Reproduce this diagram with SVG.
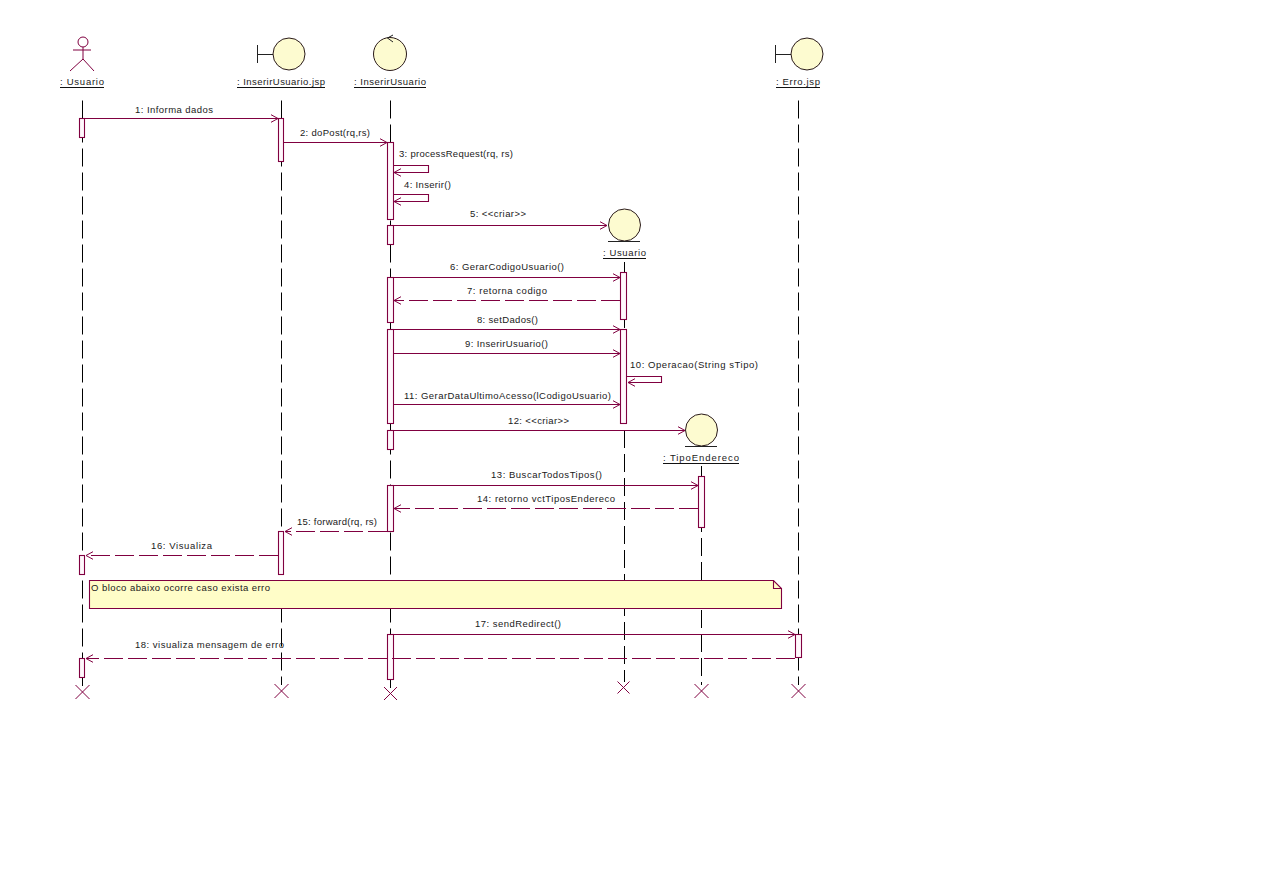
<svg xmlns="http://www.w3.org/2000/svg" width="1275" height="883" viewBox="0 0 1275 883">
<style>
text{font-family:"Liberation Sans",Arial,sans-serif;font-size:9.5px;fill:#1a1a1a}
.life{stroke:#000;stroke-width:1;stroke-dasharray:18 6;fill:none}
.act{fill:#fff8fc;stroke:#800040;stroke-width:1.1}
.msg{stroke:#800040;stroke-width:1.1;fill:none;marker-end:url(#open)}
.ret{stroke:#800040;stroke-width:1.1;fill:none;stroke-dasharray:19 5;marker-end:url(#open)}
.ent{fill:#fdfbd0;stroke:#2a1a1a;stroke-width:1}
.fig{stroke:#222;stroke-width:1;fill:none}
.actor{stroke:#800040;stroke-width:1;fill:none}
.x{stroke:#800040;stroke-width:1;fill:none}
.ul{stroke:#111;stroke-width:1}
</style>
<defs>
<marker id="open" markerUnits="userSpaceOnUse" markerWidth="12" markerHeight="12" refX="8" refY="5" orient="auto">
<path d="M1 1.2L8 5L1 8.8" fill="none" stroke="#800040" stroke-width="1"/>
</marker>
</defs>
<rect width="1275" height="883" fill="#fff"/>

<g id="node-usuario-actor">
<line class="life" x1="82.500" y1="100.500" x2="82.500" y2="686"/>
<circle class="actor" cx="83" cy="42" r="5"/>
<path class="actor" d="M83 47V59M73 50H91M70 71L83 59L94 71"/>
<text x="60" y="85" textLength="44">: Usuario</text>
<line class="ul" x1="60" y1="87.5" x2="104" y2="87.5"/>
<rect class="act" x="79.500" y="118.500" width="5" height="19"/>
<rect class="act" x="79.500" y="555.500" width="5" height="19"/>
<rect class="act" x="79.500" y="658.500" width="5" height="19"/>
<path class="x" d="M75.500 685L89.500 699M89.500 685L75.500 699"/>
</g>

<g id="node-inserirusuario-jsp">
<line class="life" x1="281.500" y1="100.500" x2="281.500" y2="685"/>
<path class="fig" d="M257.500 45V63M257.500 54.500H273"/>
<circle class="ent" cx="289" cy="54" r="16"/>
<text x="237" y="85" textLength="88">: InserirUsuario.jsp</text>
<line class="ul" x1="237" y1="87.5" x2="325" y2="87.5"/>
<rect class="act" x="278.500" y="118.500" width="5" height="43"/>
<rect class="act" x="278.500" y="531.500" width="5" height="43"/>
<path class="x" d="M274.500 684L288.500 698M288.500 684L274.500 698"/>
</g>

<g id="node-inserirusuario">
<line class="life" x1="390.500" y1="100.500" x2="390.500" y2="688"/>
<circle class="ent" cx="390" cy="54" r="16.500"/>
<path class="fig" d="M393 35L387.500 38L393 42"/>
<text x="354" y="85" textLength="72">: InserirUsuario</text>
<line class="ul" x1="354" y1="87.5" x2="426" y2="87.5"/>
<rect class="act" x="387.500" y="142.500" width="6" height="77"/>
<rect class="act" x="387.500" y="225.500" width="6" height="19"/>
<rect class="act" x="387.500" y="277.500" width="6" height="45"/>
<rect class="act" x="387.500" y="329.500" width="6" height="94"/>
<rect class="act" x="387.500" y="430.500" width="6" height="19"/>
<rect class="act" x="387.500" y="485.500" width="6" height="46"/>
<rect class="act" x="387.500" y="634.500" width="6" height="45"/>
<path class="x" d="M384 687L397 700M397 687L384 700"/>
</g>

<g id="node-usuario-entity">
<line class="life" x1="624.500" y1="262" x2="624.500" y2="682"/>
<circle class="ent" cx="624.500" cy="225" r="16"/>
<path class="fig" d="M608 241.500H640"/>
<text x="603" y="256" textLength="43">: Usuario</text>
<line class="ul" x1="603" y1="258.500" x2="646" y2="258.500"/>
<rect class="act" x="620.500" y="272.500" width="6" height="47"/>
<rect class="act" x="620.500" y="329.500" width="6" height="94"/>
<path class="x" d="M617.500 681.500L629.500 693.500M629.500 681.500L617.500 693.500"/>
</g>

<g id="node-tipoendereco">
<line class="life" x1="701.500" y1="466" x2="701.500" y2="685"/>
<circle class="ent" cx="701.500" cy="430" r="16"/>
<path class="fig" d="M685 446.500H717"/>
<text x="663" y="461" textLength="76">: TipoEndereco</text>
<line class="ul" x1="663" y1="463.500" x2="739" y2="463.500"/>
<rect class="act" x="698.500" y="476.500" width="6" height="51"/>
<path class="x" d="M694.500 684L708.500 698M708.500 684L694.500 698"/>
</g>

<g id="node-erro-jsp">
<line class="life" x1="798.500" y1="100.500" x2="798.500" y2="685"/>
<path class="fig" d="M775.500 45V63M775.500 54.500H791"/>
<circle class="ent" cx="807" cy="54" r="16"/>
<text x="776" y="85" textLength="44">: Erro.jsp</text>
<line class="ul" x1="776" y1="87.5" x2="820" y2="87.5"/>
<rect class="act" x="795.500" y="634.500" width="6" height="23"/>
<path class="x" d="M791.500 684L805.500 698M805.500 684L791.500 698"/>
</g>

<g id="node-note">
<path d="M89.500 580.500H773.500L781.500 588.500V608.500H89.500Z" fill="#fffdc8" stroke="#800040" stroke-width="1.1"/>
<path d="M773.500 580.500V588.500H781.500" fill="none" stroke="#800040" stroke-width="1.1"/>
<text x="91" y="591" textLength="179">O bloco abaixo ocorre caso exista erro</text>
</g>

<g id="connectors">
<line class="msg" x1="85" y1="118.500" x2="278" y2="118.500"/>
<text x="135" y="113" textLength="78">1: Informa dados</text>
<line class="msg" x1="284" y1="142.500" x2="387" y2="142.500"/>
<text x="300" y="136" textLength="70">2: doPost(rq,rs)</text>
<polyline class="msg" points="393.500,165.500 428.500,165.500 428.500,172.500 394,172.500"/>
<text x="399" y="157" textLength="114">3: processRequest(rq, rs)</text>
<polyline class="msg" points="393.500,194.500 428.500,194.500 428.500,201.500 394,201.500"/>
<text x="404" y="188" textLength="47">4: Inserir()</text>
<line class="msg" x1="393.500" y1="225.500" x2="607" y2="225.500"/>
<text x="470" y="217" textLength="56">5: &lt;&lt;criar&gt;&gt;</text>
<line class="msg" x1="393.500" y1="277.500" x2="620" y2="277.500"/>
<text x="450" y="270" textLength="114">6: GerarCodigoUsuario()</text>
<line class="ret" x1="620" y1="300.500" x2="394" y2="300.500"/>
<text x="467" y="294" textLength="80">7: retorna codigo</text>
<line class="msg" x1="393.500" y1="329.500" x2="620" y2="329.500"/>
<text x="477" y="323" textLength="61">8: setDados()</text>
<line class="msg" x1="393.500" y1="353.500" x2="620" y2="353.500"/>
<text x="465" y="347" textLength="83">9: InserirUsuario()</text>
<polyline class="msg" points="626.500,376.500 661.500,376.500 661.500,382.500 628,382.500"/>
<text x="630" y="368" textLength="128">10: Operacao(String sTipo)</text>
<line class="msg" x1="393.500" y1="404.500" x2="620" y2="404.500"/>
<text x="404" y="399" textLength="207">11: GerarDataUltimoAcesso(lCodigoUsuario)</text>
<line class="msg" x1="393.500" y1="430.500" x2="685" y2="430.500"/>
<text x="508" y="424" textLength="61">12: &lt;&lt;criar&gt;&gt;</text>
<line class="msg" x1="393.500" y1="485.500" x2="698" y2="485.500"/>
<text x="491" y="478" textLength="111">13: BuscarTodosTipos()</text>
<line class="ret" x1="698" y1="508.500" x2="394" y2="508.500"/>
<text x="477" y="502" textLength="138">14: retorno vctTiposEndereco</text>
<line class="ret" x1="387" y1="531.500" x2="285" y2="531.500"/>
<text x="297" y="525" textLength="80">15: forward(rq, rs)</text>
<line class="ret" x1="278" y1="555.500" x2="86" y2="555.500"/>
<text x="151" y="549" textLength="61">16: Visualiza</text>
<line class="msg" x1="393.500" y1="634.500" x2="795" y2="634.500"/>
<text x="475" y="627" textLength="86">17: sendRedirect()</text>
<line class="ret" x1="795" y1="658.500" x2="86" y2="658.500"/>
<text x="135" y="648" textLength="149">18: visualiza mensagem de erro</text>
</g>
</svg>
